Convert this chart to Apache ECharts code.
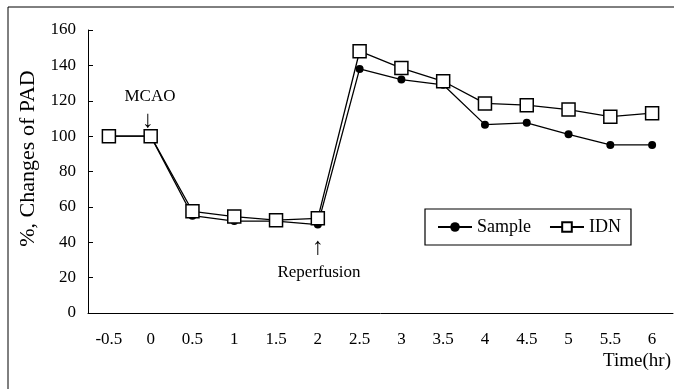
<!DOCTYPE html>
<html><head><meta charset="utf-8">
<script src="https://cdn.jsdelivr.net/npm/echarts@6/dist/echarts.min.js"></script>
<style>html,body{margin:0;padding:0;background:#fff}#c{width:674px;height:389px}</style>
</head><body><div id="c"></div>
<script>
var categories = ['-0.5','0','0.5','1','1.5','2','2.5','3','3.5','4','4.5','5','5.5','6'];
var sampleValues = [100,100,55,52,52,50,138,132,129,106.5,107.5,101,95,95];
var idnValues = [100,100,57.5,54.5,52.5,53.5,148,138.5,131,118.5,117.5,115,111,113];
var yTicks = {min:0, max:160, interval:20};
var F = 'Liberation Serif, Times New Roman, serif';
var chart = echarts.init(document.getElementById('c'));
chart.setOption({
  animation:false,
  backgroundColor:'#fff',
  textStyle:{fontFamily:F,color:'#000'},
  grid:{left:88,right:1,top:30,bottom:76},
  legend:{
    left:425, top:209, width:190,
    orient:'horizontal',
    data:['Sample','IDN'],
    borderColor:'#000', borderWidth:1.2,
    padding:[9,10,9,12],
    itemGap:18, itemWidth:34, itemHeight:12,
    textStyle:{fontFamily:F,fontSize:18,color:'#000'}
  },
  xAxis:{
    type:'category', data:categories, boundaryGap:true,
    axisLine:{lineStyle:{color:'#000',width:1}},
    axisTick:{inside:true,length:5,lineStyle:{color:'#000'}},
    axisLabel:{fontFamily:F,fontSize:17,color:'#000',margin:18},
    name:'Time(hr)', nameLocation:'end',
    nameTextStyle:{fontFamily:F,fontSize:19,color:'#000',align:'right',verticalAlign:'top',padding:[39,2,0,0]},
    nameGap:0
  },
  yAxis:{
    type:'value', min:yTicks.min, max:yTicks.max, interval:yTicks.interval,
    splitLine:{show:false},
    axisLine:{show:true,lineStyle:{color:'#000',width:1}},
    axisTick:{show:true,inside:true,length:5,lineStyle:{color:'#000'}},
    axisLabel:{fontFamily:F,fontSize:17,color:'#000',margin:12},
    name:'%, Changes of PAD', nameLocation:'middle', nameGap:46,
    nameTextStyle:{fontFamily:F,fontSize:22,color:'#000',padding:[0,0,0,26]}
  },
  series:[
    {name:'Sample',type:'line',data:sampleValues,symbol:'circle',symbolSize:8,
     lineStyle:{color:'#000',width:1.3},itemStyle:{color:'#000'},z:2},
    {name:'IDN',type:'line',data:idnValues,symbol:'rect',symbolSize:13,
     lineStyle:{color:'#000',width:1.3},itemStyle:{color:'#fff',borderColor:'#000',borderWidth:1.5},z:3}
  ],
  graphic:[
    {type:'polyline',shape:{points:[[8,389],[8,7],[674,7]]},style:{stroke:'#000',lineWidth:1,fill:null}},
    {type:'text',position:[150,97],style:{text:'MCAO',font:'17px '+F,fill:'#000',textAlign:'center',textVerticalAlign:'middle'}},
    {type:'text',position:[148,121],style:{text:'↓',font:'24px '+F,fill:'#000',textAlign:'center',textVerticalAlign:'middle'}},
    {type:'text',position:[318,248],style:{text:'↑',font:'24px '+F,fill:'#000',textAlign:'center',textVerticalAlign:'middle'}},
    {type:'text',position:[319,273],style:{text:'Reperfusion',font:'17px '+F,fill:'#000',textAlign:'center',textVerticalAlign:'middle'}}
  ]
});
</script></body></html>
